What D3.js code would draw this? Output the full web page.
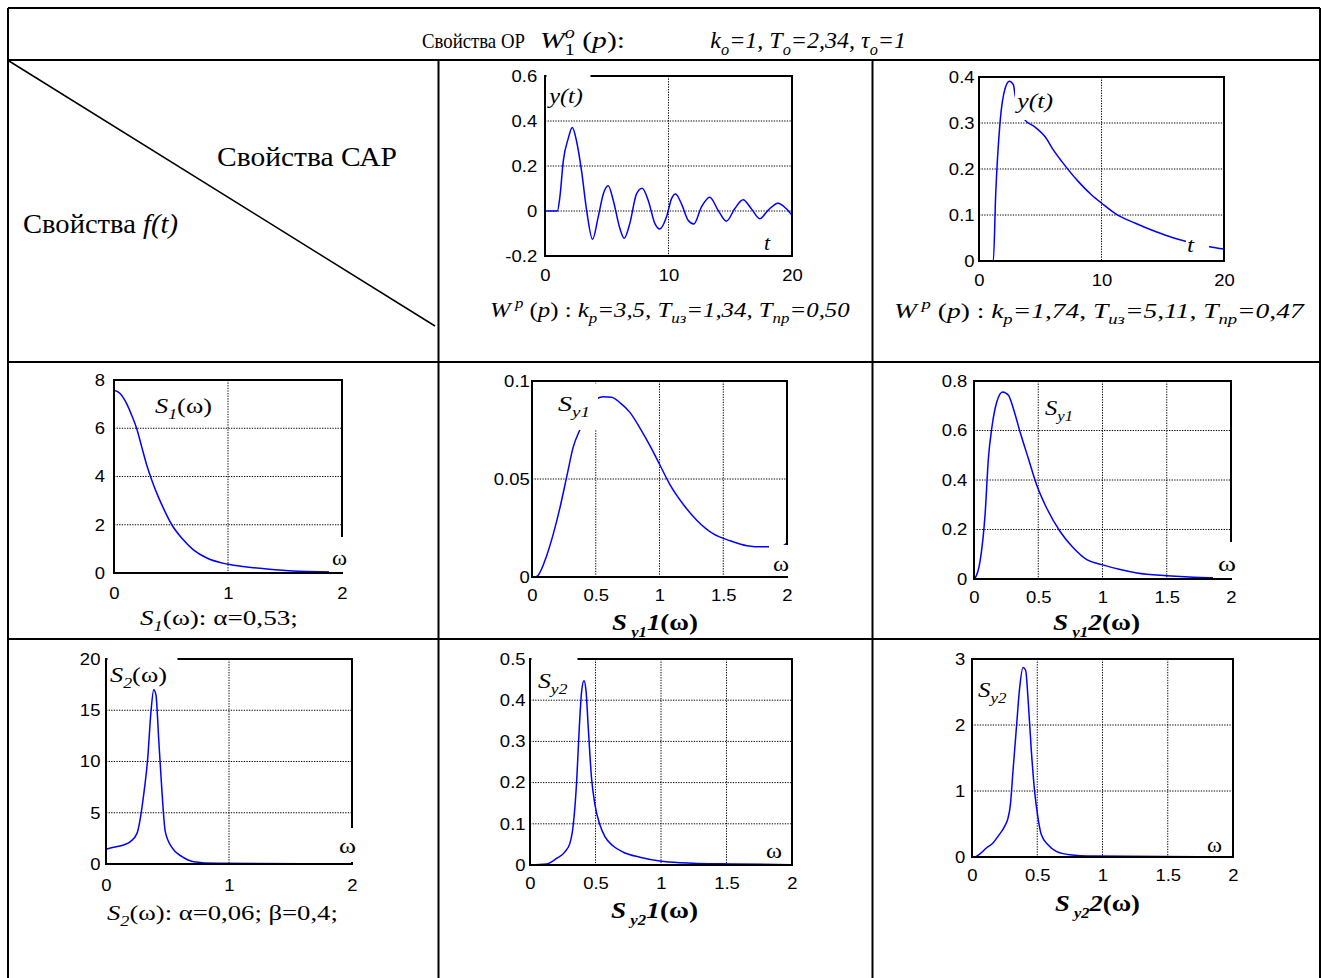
<!DOCTYPE html>
<html><head><meta charset="utf-8">
<script src="https://cdn.jsdelivr.net/npm/d3@7"></script>
<style>body{margin:0;background:#fff}svg{display:block}</style>
</head><body>
<svg id="c" width="1321" height="978"></svg>
<script>
// ---------- DATA ----------
const yt1T = [0, 1.0, 1.2, 1.48, 1.89, 2.21, 2.56, 2.96, 3.37, 3.85, 4.31, 4.72, 5.12, 5.53, 6.06, 6.41, 6.87, 7.41, 7.87, 8.36, 8.89, 9.3, 9.84, 10.24, 10.57, 11.05, 11.59, 12.05, 12.67, 13.34, 14.02, 14.69, 15.36, 16.04, 16.71, 17.39, 18.06, 18.87, 19.54, 20];
const yt1Y = [0, 0, 0.06, 0.222, 0.324, 0.371, 0.309, 0.178, 0.003, -0.126, -0.026, 0.076, 0.112, 0.047, -0.077, -0.121, -0.055, 0.076, 0.101, 0.047, -0.055, -0.080, -0.026, 0.054, 0.076, 0.032, -0.041, -0.058, 0.018, 0.061, 0.003, -0.045, 0.010, 0.05, 0.01, -0.034, 0.003, 0.035, 0.01, -0.019];

const yt2T = [0, 1.17, 1.36, 1.72, 2.13, 2.48, 2.81, 2.95, 3.3, 3.71, 4.58, 5.4, 6.08, 6.77, 8.13, 9.22, 10.04, 11.13, 12.77, 14.4, 15.77, 17.0, 18.0, 18.83, 20];
const yt2Y = [0, 0, 0.143, 0.302, 0.375, 0.391, 0.383, 0.36, 0.33, 0.308, 0.291, 0.27, 0.241, 0.216, 0.172, 0.143, 0.125, 0.103, 0.082, 0.064, 0.051, 0.042, 0.036, 0.031, 0.026];

const s1W = [0, 0.053, 0.111, 0.155, 0.199, 0.243, 0.287, 0.331, 0.375, 0.433, 0.507, 0.594, 0.697, 0.814, 0.99, 1.165, 1.341, 1.575, 2.0];
const s1V = [7.58, 7.44, 7.02, 6.54, 5.99, 5.23, 4.48, 3.86, 3.31, 2.69, 2.0, 1.45, 0.96, 0.62, 0.37, 0.25, 0.165, 0.083, 0.04];

const sy11W = [0, 0.02, 0.047, 0.113, 0.165, 0.218, 0.275, 0.322, 0.375, 0.44, 0.48, 0.511, 0.558, 0.624, 0.689, 0.768, 0.847, 0.925, 1.004, 1.083, 1.187, 1.292, 1.423, 1.554, 1.685, 1.816, 1.947, 2.0];
const sy11V = [0, 0, 0.0008, 0.0105, 0.0215, 0.035, 0.052, 0.066, 0.075, 0.083, 0.088, 0.091, 0.092, 0.0917, 0.089, 0.084, 0.076, 0.067, 0.057, 0.047, 0.037, 0.029, 0.022, 0.0185, 0.016, 0.0154, 0.0154, 0.0173];

const sy12W = [0, 0.008, 0.047, 0.086, 0.112, 0.138, 0.177, 0.223, 0.268, 0.306, 0.358, 0.423, 0.488, 0.566, 0.67, 0.774, 0.878, 0.995, 1.138, 1.268, 1.501, 1.709, 2.0];
const sy12V = [0, 0.004, 0.071, 0.259, 0.487, 0.608, 0.715, 0.756, 0.742, 0.689, 0.595, 0.487, 0.38, 0.286, 0.192, 0.125, 0.078, 0.058, 0.038, 0.024, 0.013, 0.007, 0.004];

const s2W = [0, 0.062, 0.144, 0.198, 0.252, 0.279, 0.306, 0.339, 0.366, 0.388, 0.406, 0.428, 0.455, 0.482, 0.537, 0.618, 0.713, 0.902, 2.0];
const s2V = [1.43, 1.63, 1.85, 2.18, 2.99, 4.46, 6.73, 10.3, 14.9, 17.0, 16.5, 12.3, 7.06, 3.15, 1.59, 0.72, 0.23, 0.07, 0.0];

const sy21W = [0, 0.127, 0.203, 0.267, 0.305, 0.33, 0.356, 0.376, 0.394, 0.412, 0.427, 0.445, 0.47, 0.496, 0.534, 0.572, 0.635, 0.712, 0.839, 0.991, 1.144, 1.55, 2.0];
const sy21V = [0, 0.0024, 0.016, 0.032, 0.053, 0.097, 0.202, 0.332, 0.421, 0.447, 0.425, 0.332, 0.21, 0.146, 0.097, 0.069, 0.046, 0.031, 0.019, 0.0097, 0.0057, 0.0024, 0.0008];

const sy22W = [0, 0.02, 0.059, 0.11, 0.161, 0.199, 0.25, 0.276, 0.294, 0.314, 0.34, 0.365, 0.391, 0.411, 0.429, 0.455, 0.48, 0.506, 0.531, 0.582, 0.646, 0.748, 0.927, 2.0];
const sy22V = [0, 0, 0.045, 0.136, 0.212, 0.313, 0.464, 0.59, 0.79, 1.30, 1.95, 2.56, 2.87, 2.83, 2.41, 1.60, 0.99, 0.59, 0.34, 0.187, 0.086, 0.035, 0.015, 0];

// tick values and labels
const tTicks = [0, 10, 20];           const tTickLabels = ['0', '10', '20'];
const wTicks2 = [0, 1, 2];            const wTickLabels2 = ['0', '1', '2'];
const wTicks5 = [0, 0.5, 1, 1.5, 2];  const wTickLabels5 = ['0', '0.5', '1', '1.5', '2'];
const yt1Ticks = [-0.2, 0, 0.2, 0.4, 0.6];   const yt1TickLabels = ['-0.2', '0', '0.2', '0.4', '0.6'];
const yt2Ticks = [0, 0.1, 0.2, 0.3, 0.4];    const yt2TickLabels = ['0', '0.1', '0.2', '0.3', '0.4'];
const s1Ticks = [0, 2, 4, 6, 8];             const s1TickLabels = ['0', '2', '4', '6', '8'];
const sy11Ticks = [0, 0.05, 0.1];            const sy11TickLabels = ['0', '0.05', '0.1'];
const sy12Ticks = [0, 0.2, 0.4, 0.6, 0.8];   const sy12TickLabels = ['0', '0.2', '0.4', '0.6', '0.8'];
const s2Ticks = [0, 5, 10, 15, 20];          const s2TickLabels = ['0', '5', '10', '15', '20'];
const sy21Ticks = [0, 0.1, 0.2, 0.3, 0.4, 0.5]; const sy21TickLabels = ['0', '0.1', '0.2', '0.3', '0.4', '0.5'];
const sy22Ticks = [0, 1, 2, 3];              const sy22TickLabels = ['0', '1', '2', '3'];

// ---------- DRAWING ----------
const SERIF = "'Liberation Serif','Times New Roman',serif";
const SANS = "'Liberation Sans',Arial,sans-serif";
const svg = d3.select('#c');

// rich text: placed from x0 (fitted to x1 if given); if x0 is null, right-aligned at x1 with natural width
function rich(g, x0, x1, y, parts, size, bold) {
  const t = g.append('text').attr('x', 0).attr('y', y)
    .attr('font-family', SERIF).attr('font-size', size).attr('fill', '#000');
  if (bold) t.attr('font-weight', 'bold');
  let shift = 0;
  parts.forEach(p => {
    const ts = t.append('tspan').text(p.t);
    const target = p.sub ? size * 0.28 : (p.sup ? -size * 0.42 : 0);
    ts.attr('dy', target - shift); shift = target;
    if (p.sub || p.sup) ts.attr('font-size', size * (p.sz || 0.68));
    if (p.i) ts.attr('font-style', 'italic');
    if (p.dx) ts.attr('dx', p.dx);
  });
  const bb = t.node().getBBox();
  let sx = 1, start = x0;
  if (x0 == null) start = x1 - bb.width;
  else if (x1) sx = (x1 - x0) / bb.width;
  t.attr('transform', `translate(${start},0) scale(${sx},1) translate(${-bb.x},0)`);
  return t;
}

// table
const table = svg.append('g').attr('stroke', '#000').attr('stroke-width', 2);
[[8, 8, 1320, 8], [8, 60, 1320, 60], [8, 362, 1320, 362], [8, 639, 1320, 639],
 [8, 8, 8, 978], [1320, 8, 1320, 978], [438.5, 60, 438.5, 978], [872.5, 60, 872.5, 978]]
  .forEach(l => table.append('line').attr('x1', l[0]).attr('y1', l[1]).attr('x2', l[2]).attr('y2', l[3]));
svg.append('line').attr('x1', 9).attr('y1', 61).attr('x2', 435).attr('y2', 326)
  .attr('stroke', '#000').attr('stroke-width', 1.5);

// header
rich(svg, 422, 525, 48, [{t: 'Свойства ОР'}], 21);
rich(svg, 540, 625, 48, [{t: 'W', i: true}, {t: '1', sub: true}, {t: 'o', sup: true, i: true, dx: -8},
  {t: ' ('}, {t: 'p', i: true}, {t: '):'}], 24);
rich(svg, null, 906, 48, [{t: 'k', i: true}, {t: 'o', i: true, sub: true},
  {t: '=1, ', i: true}, {t: 'T', i: true}, {t: 'o', i: true, sub: true}, {t: '=2,34, ', i: true},
  {t: 'τ', i: true}, {t: 'o', i: true, sub: true}, {t: '=1', i: true}], 24);

rich(svg, 217, 397, 166, [{t: 'Свойства САР'}], 28);
rich(svg, 23, 178, 233, [{t: 'Свойства '}, {t: 'f(t)', i: true}], 28);

function drawPlot(c) {
  const g = svg.append('g');
  const x = d3.scaleLinear().domain(c.xd).range([c.l, c.r]);
  const y = d3.scaleLinear().domain(c.yd).range([c.b, c.t]);
  // grid
  const gx = c.xt.filter(v => v > c.xd[0] && v < c.xd[1]);
  const gy = c.yt.filter(v => v > c.yd[0] && v < c.yd[1]);
  g.selectAll('line.gx').data(gx).join('line').attr('class', 'gx')
    .attr('x1', d => x(d)).attr('x2', d => x(d)).attr('y1', c.t).attr('y2', c.b)
    .attr('stroke', '#000').attr('stroke-width', 1).attr('stroke-dasharray', '1.3,1.3');
  g.selectAll('line.gy').data(gy).join('line').attr('class', 'gy')
    .attr('y1', d => y(d)).attr('y2', d => y(d)).attr('x1', c.l).attr('x2', c.r)
    .attr('stroke', '#000').attr('stroke-width', 1).attr('stroke-dasharray', '1.3,1.3');
  // curve
  const pts = c.xs.map((v, i) => [v, c.ys[i]]);
  g.append('path').datum(pts)
    .attr('d', d3.line().x(d => x(d[0])).y(d => y(d[1])).curve(d3.curveMonotoneX))
    .attr('fill', 'none').attr('stroke', '#0000ff').attr('stroke-width', 1.5);
  // box
  g.append('rect').attr('x', c.l).attr('y', c.t).attr('width', c.r - c.l).attr('height', c.b - c.t)
    .attr('fill', 'none').attr('stroke', '#000').attr('stroke-width', 2);
  // axes labels
  const ax = g.append('g').attr('transform', `translate(0,${c.b})`)
    .call(d3.axisBottom(x).tickValues(c.xt).tickFormat((d, i) => c.xl[i]).tickSize(0).tickPadding(c.xpad || 13));
  const ay = g.append('g').attr('transform', `translate(${c.l},0)`)
    .call(d3.axisLeft(y).tickValues(c.yt).tickFormat((d, i) => c.yl[i]).tickSize(0).tickPadding(c.ypad));
  [ax, ay].forEach(a => {
    a.select('.domain').remove();
    a.selectAll('text').attr('font-family', SANS).attr('font-size', 16.5).attr('fill', '#000')
      .attr('transform', 'scale(1.12,1)');
  });
  // label backgrounds and labels
  (c.bg || []).forEach(b => g.append('rect').attr('x', b[0]).attr('y', b[1]).attr('width', b[2]).attr('height', b[3]).attr('fill', '#fff'));
  (c.labels || []).forEach(lb => rich(g, lb.x0, lb.x1, lb.y, lb.p, lb.s || 22));
  if (c.cap) rich(g, c.cap.x0, c.cap.x1, c.cap.y, c.cap.p, c.cap.s || 22, c.cap.b);
}

const wLbl = (x0, x1, y) => ({x0, x1, y, p: [{t: 'ω'}], s: 22});
const wCap = (sub, n) => [{t: 'S', i: true}, {t: ' ' + sub, i: true, sub: true, sz: 0.62}, {t: n, i: true}, {t: '(ω)'}];

drawPlot({l: 545, r: 792, t: 76, b: 256, xd: [0, 20], yd: [-0.2, 0.6], xt: tTicks, xl: tTickLabels, yt: yt1Ticks, yl: yt1TickLabels,
  ypad: 7, xpad: 13, xs: yt1T, ys: yt1Y, bg: [[546.5, 70, 44, 40]],
  labels: [{x0: 547, x1: 583, y: 103, p: [{t: 'y(t)', i: true}]}, {x0: 764, x1: 771, y: 250, p: [{t: 't', i: true}]}],
  cap: {x0: 490, x1: 850, y: 317, p: [{t: 'W', i: true}, {t: ' p', i: true, sup: true}, {t: ' ('}, {t: 'p', i: true}, {t: ') : '},
    {t: 'k', i: true}, {t: 'p', i: true, sub: true}, {t: '=3,5,  ', i: true}, {t: 'T', i: true}, {t: 'из', i: true, sub: true},
    {t: '=1,34,  ', i: true}, {t: 'T', i: true}, {t: 'пр', i: true, sub: true}, {t: '=0,50', i: true}]}});

drawPlot({l: 979, r: 1224, t: 77, b: 261, xd: [0, 20], yd: [0, 0.4], xt: tTicks, xl: tTickLabels, yt: yt2Ticks, yl: yt2TickLabels,
  ypad: 4, xpad: 13, xs: yt2T, ys: yt2Y, bg: [[1015, 84, 42, 36], [1186, 232, 23, 24]],
  labels: [{x0: 1015, x1: 1053, y: 108, p: [{t: 'y(t)', i: true}]}, {x0: 1187, x1: 1195, y: 252, p: [{t: 't', i: true}]}],
  cap: {x0: 894, x1: 1305, y: 318, p: [{t: 'W', i: true}, {t: ' p', i: true, sup: true}, {t: ' ('}, {t: 'p', i: true}, {t: ') : '},
    {t: 'k', i: true}, {t: 'p', i: true, sub: true}, {t: '=1,74,  ', i: true}, {t: 'T', i: true}, {t: 'из', i: true, sub: true},
    {t: '=5,11,  ', i: true}, {t: 'T', i: true}, {t: 'пр', i: true, sub: true}, {t: '=0,47', i: true}]}});

drawPlot({l: 114, r: 342, t: 380, b: 573, xd: [0, 2], yd: [0, 8], xt: wTicks2, xl: wTickLabels2, yt: s1Ticks, yl: s1TickLabels,
  ypad: 8, xpad: 14, xs: s1W, ys: s1V, bg: [[329, 537, 22, 35]],
  labels: [{x0: 155, x1: 212, y: 413, p: [{t: 'S', i: true}, {t: '1', i: true, sub: true}, {t: '(ω)'}]}, wLbl(332, 347, 565)],
  cap: {x0: 140, x1: 298, y: 625, p: [{t: 'S', i: true}, {t: '1', i: true, sub: true}, {t: '(ω): α=0,53;'}]}});

drawPlot({l: 532, r: 787, t: 381, b: 577, xd: [0, 2], yd: [0, 0.1], xt: wTicks5, xl: wTickLabels5, yt: sy11Ticks, yl: sy11TickLabels,
  ypad: 2, xpad: 12, xs: sy11W, ys: sy11V, bg: [[555, 384, 43, 46], [769, 545, 24, 31]],
  labels: [{x0: 558, x1: 590, y: 411, p: [{t: 'S', i: true}, {t: 'y1', i: true, sub: true}]}, wLbl(773, 789, 571)],
  cap: {x0: 612, x1: 698, y: 630, b: true, s: 24, p: wCap('y1', '1')}});

drawPlot({l: 974, r: 1231, t: 381, b: 579, xd: [0, 2], yd: [0, 0.8], xt: wTicks5, xl: wTickLabels5, yt: sy12Ticks, yl: sy12TickLabels,
  ypad: 6, xpad: 12, xs: sy12W, ys: sy12V, bg: [[1213, 542, 26, 36]],
  labels: [{x0: 1045, x1: 1073, y: 415, p: [{t: 'S', i: true}, {t: 'y1', i: true, sub: true}]}, wLbl(1218, 1236, 571)],
  cap: {x0: 1053, x1: 1140, y: 630, b: true, s: 24, p: wCap('y1', '2')}});

drawPlot({l: 106, r: 352, t: 659, b: 864, xd: [0, 2], yd: [0, 20], xt: wTicks2, xl: wTickLabels2, yt: s2Ticks, yl: s2TickLabels,
  ypad: 5, xpad: 15, xs: s2W, ys: s2V, bg: [[107.5, 650, 70, 38], [336, 828, 24, 34]],
  labels: [{x0: 110, x1: 167, y: 682, p: [{t: 'S', i: true}, {t: '2', i: true, sub: true}, {t: '(ω)'}]}, wLbl(339, 356, 853)],
  cap: {x0: 107, x1: 338, y: 920, p: [{t: 'S', i: true}, {t: '2', i: true, sub: true}, {t: '(ω): α=0,06; β=0,4;'}]}});

drawPlot({l: 530, r: 792, t: 659, b: 865, xd: [0, 2], yd: [0, 0.5], xt: wTicks5, xl: wTickLabels5, yt: sy21Ticks, yl: sy21TickLabels,
  ypad: 4, xpad: 12, xs: sy21W, ys: sy21V, bg: [[531.5, 652, 46, 42]],
  labels: [{x0: 538, x1: 568, y: 688, p: [{t: 'S', i: true}, {t: 'y2', i: true, sub: true}]}, wLbl(766, 782, 858)],
  cap: {x0: 611, x1: 698, y: 918, b: true, s: 24, p: wCap('y2', '1')}});

drawPlot({l: 972, r: 1233, t: 659, b: 857, xd: [0, 2], yd: [0, 3], xt: wTicks5, xl: wTickLabels5, yt: sy22Ticks, yl: sy22TickLabels,
  ypad: 6, xpad: 12, xs: sy22W, ys: sy22V,
  labels: [{x0: 978, x1: 1007, y: 697, p: [{t: 'S', i: true}, {t: 'y2', i: true, sub: true}]}, wLbl(1207, 1222, 852)],
  cap: {x0: 1055, x1: 1140, y: 911, b: true, s: 24, p: wCap('y2', '2')}});
</script>
</body></html>
